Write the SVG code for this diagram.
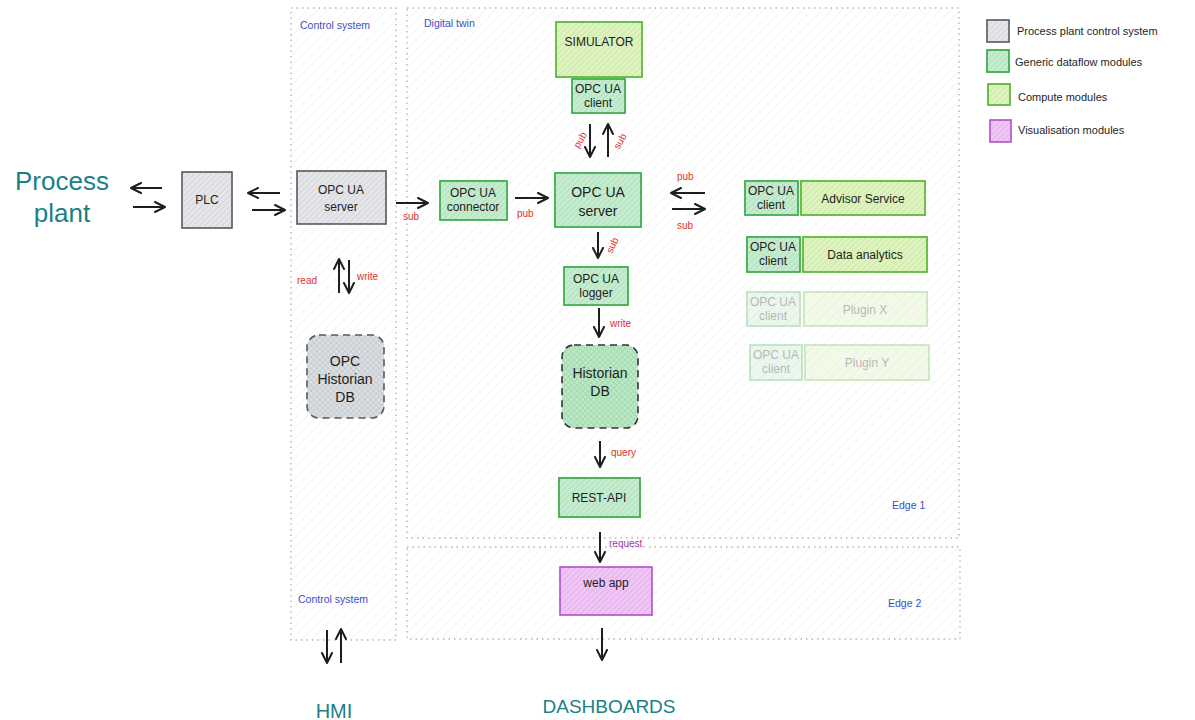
<svg xmlns="http://www.w3.org/2000/svg" width="1195" height="720" viewBox="0 0 1195 720">
  <style>
    text { font-family: "Liberation Sans", "DejaVu Sans", sans-serif; fill: #1e1e1e; }
    .lbl { font-size: 12px; text-anchor: middle; }
    .big { font-size: 14px; text-anchor: middle; }
    .zone { font-size: 10.5px; fill: #3b4fc4; }
    .tag { font-size: 10px; fill: #e03131; }
    .ext { fill: #1a7f86; text-anchor: middle; }
    .leg { font-size: 11px; }
    .container { stroke: #b5b5b5; stroke-width: 1.4; stroke-dasharray: 1.5 4; fill: url(#hContainer); }
    .gray { fill: url(#hGray); stroke: #555a60; stroke-width: 1.6; }
    .flow { fill: url(#hFlow); stroke: #3fae4f; stroke-width: 1.8; }
    .calc { fill: url(#hCalc); stroke: #5fb83a; stroke-width: 1.8; }
    .vis { fill: url(#hVis); stroke: #b050c8; stroke-width: 1.6; }
    .db { stroke-dasharray: 7 5; stroke-width: 1.6; }
    .faded { opacity: 0.32; }
    .conn path, .conn line { stroke: #1e1e1e; stroke-width: 2; fill: none; marker-end: url(#arrow); }
  </style>
  <defs>
    <pattern id="hContainer" width="7" height="7" patternUnits="userSpaceOnUse" patternTransform="rotate(45)">
      <rect width="7" height="7" fill="#ffffff"/>
      <line x1="0" y1="0" x2="0" y2="7" stroke="#efefef" stroke-width="1.2"/>
    </pattern>
    <pattern id="hGray" width="4" height="4" patternUnits="userSpaceOnUse" patternTransform="rotate(45)">
      <rect width="4" height="4" fill="#e4e6e9"/>
      <line x1="0" y1="0" x2="0" y2="4" stroke="#c2c5ca" stroke-width="1"/>
    </pattern>
    <pattern id="xGray" width="4" height="4" patternUnits="userSpaceOnUse" patternTransform="rotate(45)">
      <rect width="4" height="4" fill="#dcdfe2"/>
      <line x1="0" y1="0" x2="0" y2="4" stroke="#b9bcc1" stroke-width="1"/>
      <line x1="0" y1="0" x2="4" y2="0" stroke="#b9bcc1" stroke-width="1"/>
    </pattern>
    <pattern id="hFlow" width="4" height="4" patternUnits="userSpaceOnUse" patternTransform="rotate(45)">
      <rect width="4" height="4" fill="#c6ecd0"/>
      <line x1="0" y1="0" x2="0" y2="4" stroke="#98d6a6" stroke-width="1"/>
    </pattern>
    <pattern id="xFlow" width="4" height="4" patternUnits="userSpaceOnUse" patternTransform="rotate(45)">
      <rect width="4" height="4" fill="#bde8c6"/>
      <line x1="0" y1="0" x2="0" y2="4" stroke="#8fd09e" stroke-width="1"/>
      <line x1="0" y1="0" x2="4" y2="0" stroke="#8fd09e" stroke-width="1"/>
    </pattern>
    <pattern id="hCalc" width="4" height="4" patternUnits="userSpaceOnUse" patternTransform="rotate(45)">
      <rect width="4" height="4" fill="#dff3c0"/>
      <line x1="0" y1="0" x2="0" y2="4" stroke="#b8e08a" stroke-width="1"/>
    </pattern>
    <pattern id="hVis" width="4" height="4" patternUnits="userSpaceOnUse" patternTransform="rotate(45)">
      <rect width="4" height="4" fill="#efc6f5"/>
      <line x1="0" y1="0" x2="0" y2="4" stroke="#d99ae6" stroke-width="1"/>
    </pattern>
    <marker id="arrow" viewBox="0 0 12 12" refX="11" refY="6" markerWidth="12" markerHeight="12" markerUnits="userSpaceOnUse" orient="auto">
      <path d="M1,1 L11,6 L1,11" fill="none" stroke="#1e1e1e" stroke-width="2" stroke-linecap="round" stroke-linejoin="round"/>
    </marker>
  </defs>

  <rect width="1195" height="720" fill="#ffffff"/>

  <!-- zones -->
  <g id="zone-control">
    <rect class="container" x="291" y="8" width="105" height="632"/>
    <text class="zone" x="300" y="29">Control system</text>
    <text class="zone" x="298" y="603">Control system</text>
  </g>
  <g id="zone-edge1">
    <rect class="container" x="407" y="8" width="552" height="530"/>
    <text class="zone" x="424" y="27">Digital twin</text>
    <text class="zone" x="892" y="509">Edge 1</text>
  </g>
  <g id="zone-edge2">
    <rect class="container" x="407" y="547" width="553" height="92"/>
    <text class="zone" x="888" y="607">Edge 2</text>
  </g>

  <!-- external endpoints -->
  <g id="process-plant">
    <text class="ext" x="62" y="190" font-size="26">Process</text>
    <text class="ext" x="62" y="222" font-size="26">plant</text>
  </g>
  <g id="hmi"><text class="ext" x="334" y="718" font-size="20">HMI</text></g>
  <g id="dashboards"><text class="ext" x="609" y="713" font-size="19">DASHBOARDS</text></g>

  <!-- control system nodes -->
  <g id="plc">
    <rect class="gray" x="182" y="172" width="50" height="56"/>
    <text class="lbl" x="207" y="204">PLC</text>
  </g>
  <g id="opcua-server-cs">
    <rect class="gray" x="297" y="171" width="89" height="53"/>
    <text class="lbl" x="341" y="194">OPC UA</text>
    <text class="lbl" x="341" y="211">server</text>
  </g>
  <g id="opc-historian-db">
    <rect class="gray db" x="307" y="335" width="77" height="83" rx="12" style="fill:url(#xGray)"/>
    <text class="big" x="345" y="366">OPC</text>
    <text class="big" x="345" y="384">Historian</text>
    <text class="big" x="345" y="402">DB</text>
  </g>

  <!-- digital twin nodes -->
  <g id="simulator">
    <rect class="calc" x="556" y="22" width="86" height="55"/>
    <text class="lbl" x="599" y="46">SIMULATOR</text>
  </g>
  <g id="sim-client">
    <rect class="flow" x="572" y="79" width="53" height="34"/>
    <text class="lbl" x="598" y="93" font-size="11">OPC UA</text>
    <text class="lbl" x="598" y="107" font-size="11">client</text>
  </g>
  <g id="opcua-connector">
    <rect class="flow" x="440" y="181" width="67" height="39"/>
    <text class="lbl" x="473" y="197" font-size="11">OPC UA</text>
    <text class="lbl" x="473" y="211" font-size="11">connector</text>
  </g>
  <g id="opcua-server-dt">
    <rect class="flow" x="555" y="173" width="86" height="54"/>
    <text class="big" x="598" y="197">OPC UA</text>
    <text class="big" x="598" y="216">server</text>
  </g>
  <g id="opcua-logger">
    <rect class="flow" x="564" y="267" width="64" height="38"/>
    <text class="lbl" x="596" y="283" font-size="11">OPC UA</text>
    <text class="lbl" x="596" y="297" font-size="11">logger</text>
  </g>
  <g id="historian-db">
    <rect class="flow db" x="562" y="345" width="76" height="83" rx="12" style="fill:url(#xFlow);stroke:#333"/>
    <text class="big" x="600" y="378">Historian</text>
    <text class="big" x="600" y="396">DB</text>
  </g>
  <g id="rest-api">
    <rect class="flow" x="559" y="478" width="81" height="39"/>
    <text class="lbl" x="599" y="502">REST-API</text>
  </g>
  <g id="web-app">
    <rect class="vis" x="560" y="567" width="92" height="48"/>
    <text class="lbl" x="606" y="587">web app</text>
  </g>

  <!-- services -->
  <g id="advisor-service">
    <rect class="flow" x="745" y="181" width="53" height="34"/>
    <text class="lbl" x="771" y="195" font-size="11">OPC UA</text>
    <text class="lbl" x="771" y="209" font-size="11">client</text>
    <rect class="calc" x="801" y="181" width="124" height="34"/>
    <text class="lbl" x="863" y="203">Advisor Service</text>
  </g>
  <g id="data-analytics">
    <rect class="flow" x="747" y="237" width="53" height="35"/>
    <text class="lbl" x="773" y="251" font-size="11">OPC UA</text>
    <text class="lbl" x="773" y="265" font-size="11">client</text>
    <rect class="calc" x="803" y="237" width="124" height="35"/>
    <text class="lbl" x="865" y="259">Data analytics</text>
  </g>
  <g id="plugin-x" class="faded">
    <rect class="flow" x="747" y="292" width="53" height="34"/>
    <text class="lbl" x="773" y="306" font-size="11">OPC UA</text>
    <text class="lbl" x="773" y="320" font-size="11">client</text>
    <rect class="calc" x="804" y="292" width="123" height="34"/>
    <text class="lbl" x="865" y="314">Plugin X</text>
  </g>
  <g id="plugin-y" class="faded">
    <rect class="flow" x="750" y="345" width="52" height="35"/>
    <text class="lbl" x="776" y="359" font-size="11">OPC UA</text>
    <text class="lbl" x="776" y="373" font-size="11">client</text>
    <rect class="calc" x="805" y="345" width="124" height="35"/>
    <text class="lbl" x="867" y="367">Plugin Y</text>
  </g>

  <!-- connectors -->
  <g id="connectors" class="conn">
    <line x1="162" y1="188" x2="131" y2="188"/>
    <line x1="133" y1="207" x2="165" y2="207"/>
    <line x1="280" y1="193" x2="248" y2="193"/>
    <line x1="252" y1="210" x2="285" y2="210"/>
    <line x1="396" y1="203" x2="428" y2="203"/>
    <line x1="515" y1="198" x2="548" y2="198"/>
    <line x1="590" y1="124" x2="590" y2="157"/>
    <line x1="608" y1="157" x2="608" y2="124"/>
    <line x1="705" y1="193" x2="671" y2="193"/>
    <line x1="672" y1="209" x2="705" y2="209"/>
    <line x1="598" y1="232" x2="598" y2="258"/>
    <line x1="599" y1="308" x2="599" y2="337"/>
    <line x1="600" y1="441" x2="600" y2="467"/>
    <line x1="600" y1="532" x2="600" y2="562"/>
    <line x1="602" y1="628" x2="602" y2="660"/>
    <line x1="339" y1="293" x2="339" y2="259"/>
    <line x1="349" y1="260" x2="349" y2="293"/>
    <line x1="327" y1="630" x2="327" y2="663"/>
    <line x1="341" y1="663" x2="341" y2="629"/>
  </g>

  <!-- connector labels -->
  <g id="connector-labels">
    <text class="tag" x="403" y="220">sub</text>
    <text class="tag" x="517" y="217">pub</text>
    <text class="tag" transform="translate(579,149) rotate(-60)">pub</text>
    <text class="tag" transform="translate(619,150) rotate(-60)">sub</text>
    <text class="tag" transform="translate(612,254) rotate(-65)">sub</text>
    <text class="tag" x="677" y="180">pub</text>
    <text class="tag" x="677" y="229">sub</text>
    <text class="tag" x="610" y="327">write</text>
    <text class="tag" x="611" y="456">query</text>
    <text class="tag" x="609" y="547" style="fill:#9c36b5">request</text>
    <text class="tag" x="297" y="284">read</text>
    <text class="tag" x="357" y="280">write</text>
  </g>

  <!-- legend -->
  <g id="legend">
    <rect class="gray" x="987" y="20" width="22" height="22"/>
    <text class="leg" x="1017" y="35">Process plant control system</text>
    <rect class="flow" x="987" y="50" width="22" height="22"/>
    <text class="leg" x="1015" y="66">Generic dataflow modules</text>
    <rect class="calc" x="988" y="84" width="22" height="21"/>
    <text class="leg" x="1018" y="101">Compute modules</text>
    <rect class="vis" x="990" y="120" width="21" height="22"/>
    <text class="leg" x="1018" y="134">Visualisation modules</text>
  </g>
</svg>
